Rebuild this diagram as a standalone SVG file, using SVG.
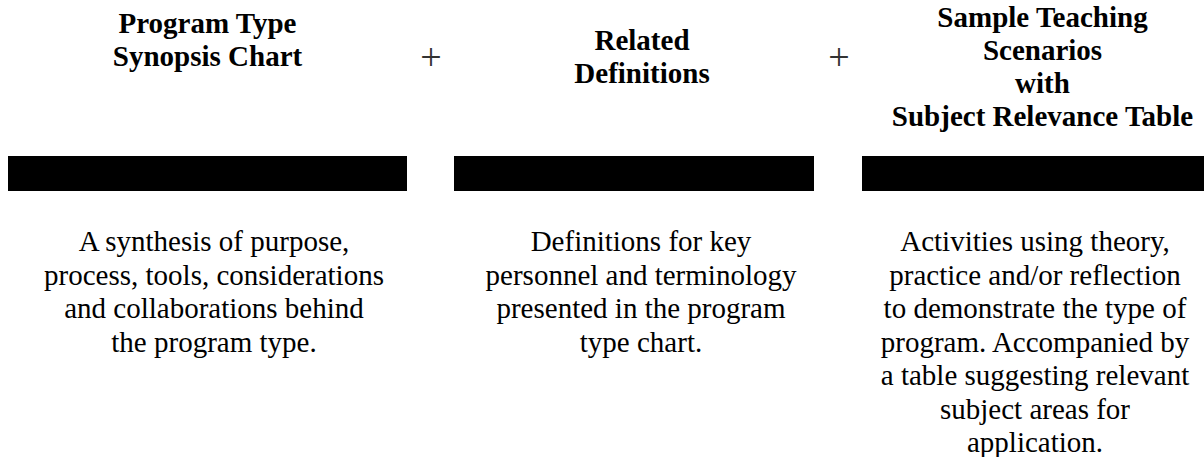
<svg xmlns="http://www.w3.org/2000/svg" width="1204" height="457" viewBox="0 0 1204 457">
<style>
.h{font-family:"Liberation Serif","Times New Roman",serif;font-size:29px;font-weight:bold;fill:#000;text-anchor:middle}
.b{font-family:"Liberation Serif","Times New Roman",serif;font-size:29px;fill:#000;text-anchor:middle}
.p{font-family:"Liberation Serif","Times New Roman",serif;font-size:38px;fill:#333;text-anchor:middle}
.bar{fill:#000}
</style>
<rect width="1204" height="457" fill="#fff"/>
<g id="col1">
<text class="h" x="207.5" y="33.3">Program Type</text>
<text class="h" x="207.5" y="66.3">Synopsis Chart</text>
<rect class="bar" x="8" y="156" width="399" height="35"/>
<text class="b" x="214" y="251">A synthesis of purpose,</text>
<text class="b" x="214" y="284.5">process, tools, considerations</text>
<text class="b" x="214" y="318">and collaborations behind</text>
<text class="b" x="214" y="351.5">the program type.</text>
</g>
<g id="col2">
<text class="h" x="642" y="50">Related</text>
<text class="h" x="642" y="83">Definitions</text>
<rect class="bar" x="454" y="156" width="360" height="35"/>
<text class="b" x="641" y="251">Definitions for key</text>
<text class="b" x="641" y="284.5">personnel and terminology</text>
<text class="b" x="641" y="318">presented in the program</text>
<text class="b" x="641" y="351.5">type chart.</text>
</g>
<g id="col3">
<text class="h" x="1042.5" y="27.3">Sample Teaching</text>
<text class="h" x="1042.5" y="60.2">Scenarios</text>
<text class="h" x="1042.5" y="93.1">with</text>
<text class="h" x="1042.5" y="126">Subject Relevance Table</text>
<rect class="bar" x="862" y="156" width="342" height="35"/>
<text class="b" x="1035" y="251">Activities using theory,</text>
<text class="b" x="1035" y="284.5">practice and/or reflection</text>
<text class="b" x="1035" y="318">to demonstrate the type of</text>
<text class="b" x="1035" y="351.5">program. Accompanied by</text>
<text class="b" x="1035" y="385">a table suggesting relevant</text>
<text class="b" x="1035" y="418.5">subject areas for</text>
<text class="b" x="1035" y="452">application.</text>
</g>
<g id="connectors">
<text class="p" x="431" y="70">+</text>
<text class="p" x="839" y="70">+</text>
</g>
</svg>
